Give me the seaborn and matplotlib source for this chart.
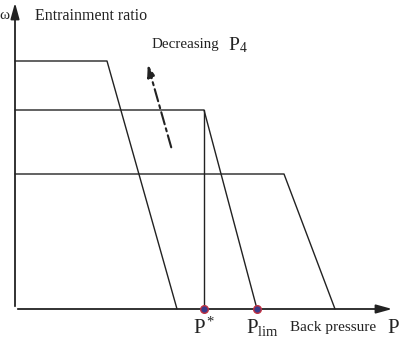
import matplotlib
matplotlib.use("Agg")
import matplotlib.pyplot as plt
import seaborn as sns
import pandas as pd

sns.set_theme(style="white")
plt.rcParams['font.family'] = ['Liberation Serif', 'DejaVu Serif']
plt.rcParams['mathtext.fontset'] = 'stix'

# Curves: (back pressure, entrainment ratio) for three primary pressures
curve_names = ["high", "mid", "low"]
curve_p = [[0.0, 9.2, 16.2], [0.0, 18.9, 24.2], [0.0, 26.9, 32.0]]
curve_w = [[24.8, 24.8, 0.0], [19.9, 19.9, 0.0], [13.5, 13.5, 0.0]]
p_star = 18.9
p_lim = 24.2

rows = []
for name, ps, ws in zip(curve_names, curve_p, curve_w):
    for i, (p, w) in enumerate(zip(ps, ws)):
        rows.append({"curve": name, "P": p, "w": w, "order": i})
df = pd.DataFrame(rows)

fig = plt.figure(figsize=(3.99, 3.42), dpi=100)
ax = fig.add_axes([0, 0, 1, 1])
ax.set_xlim(-1.5, 38.4)
ax.set_ylim(-3.3, 30.9)
ax.axis("off")

sns.lineplot(data=df, x="P", y="w", hue="curve", units="curve", estimator=None,
             sort=False, palette=["#222222"] * 3, lw=1.0, legend=False, ax=ax)

# vertical line at P*
ax.plot([p_star, p_star], [0, curve_w[1][1]], color="#222222", lw=1.0)

# axes arrows
ax.annotate("", xy=(38.0, 0), xytext=(0, 0),
            arrowprops=dict(arrowstyle="-|>,head_length=0.8,head_width=0.22", color="#222222", lw=1.3))
ax.annotate("", xy=(0, 30.9), xytext=(0, 0),
            arrowprops=dict(arrowstyle="-|>,head_length=0.8,head_width=0.22", color="#222222", lw=1.3))

# markers
ax.scatter([p_star, p_lim], [0, 0], s=30, color="#3a3a8a", edgecolor="#c03040", lw=1.0, zorder=5)

# dash-dot arrow
ax.annotate("", xy=(13.2, 24.7), xytext=(15.7, 15.9),
            arrowprops=dict(arrowstyle="-|>,head_length=0.6,head_width=0.2", color="#222222",
                            lw=1.5, linestyle=(0, (6, 2, 1.5, 2))))

# texts
ax.text(-1.1, 29.3, "ω", fontsize=11, ha="center", va="center", color="#222222")
ax.text(2.0, 29.3, "Entrainment ratio", fontsize=11.5, ha="left", va="center", color="#222222")
ax.text(13.7, 26.4, "Decreasing", fontsize=10.8, ha="left", va="center", color="#222222")
ax.text(21.3, 26.4, "$\\mathregular{P_4}$", fontsize=14, ha="left", va="center", color="#222222")
ax.text(p_star, -1.9, "$\\mathregular{P^*}$", fontsize=15, ha="center", va="center", color="#222222")
ax.text(p_lim + 0.6, -1.9, "$\\mathregular{P_{lim}}$", fontsize=15, ha="center", va="center", color="#222222")
ax.text(27.5, -1.9, "Back pressure", fontsize=11, ha="left", va="center", color="#222222")
ax.text(37.2, -1.9, "$\\mathregular{P_1}$", fontsize=15, ha="left", va="center", color="#222222")

fig.savefig("out.png", dpi=100)
